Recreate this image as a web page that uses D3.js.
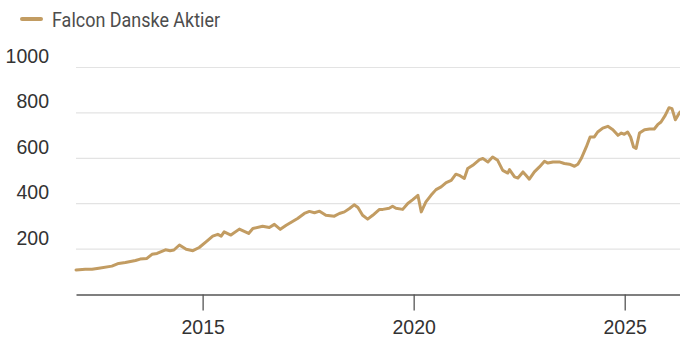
<!DOCTYPE html>
<html>
<head>
<meta charset="utf-8">
<script src="https://cdn.jsdelivr.net/npm/d3@7"></script>
<style>
  html, body { margin: 0; padding: 0; background: #fff; }
  svg { display: block; }
</style>
</head>
<body>
<svg id="chart" width="680" height="345"></svg>
<script>
// Fund series: time as decimal year, index value
const seriesName = "Falcon Danske Aktier";
const years = [
  2012.00, 2012.22, 2012.38, 2012.54, 2012.85, 2013.01, 2013.17, 2013.41, 2013.52, 2013.68,
  2013.80, 2013.92, 2014.12, 2014.23, 2014.32, 2014.45, 2014.61, 2014.77, 2014.92, 2015.08,
  2015.24, 2015.36, 2015.44, 2015.51, 2015.67, 2015.87, 2016.09, 2016.19, 2016.42, 2016.58,
  2016.70, 2016.84, 2016.98, 2017.14, 2017.25, 2017.41, 2017.53, 2017.65, 2017.77, 2017.92,
  2018.12, 2018.24, 2018.36, 2018.48, 2018.59, 2018.68, 2018.79, 2018.91, 2019.03, 2019.19,
  2019.27, 2019.42, 2019.50, 2019.58, 2019.74, 2019.86, 2019.98, 2020.10, 2020.18, 2020.29,
  2020.41, 2020.53, 2020.65, 2020.77, 2020.89, 2021.00, 2021.08, 2021.20, 2021.28, 2021.40,
  2021.56, 2021.64, 2021.76, 2021.87, 2021.99, 2022.11, 2022.23, 2022.27, 2022.39, 2022.47,
  2022.59, 2022.66, 2022.74, 2022.86, 2022.98, 2023.10, 2023.18, 2023.30, 2023.45, 2023.57,
  2023.69, 2023.81, 2023.89, 2023.97, 2024.09, 2024.18, 2024.28, 2024.36, 2024.48, 2024.60,
  2024.72, 2024.84, 2024.92, 2024.99, 2025.07, 2025.14, 2025.21, 2025.27, 2025.35, 2025.47,
  2025.59, 2025.70, 2025.78, 2025.86, 2025.96, 2026.05, 2026.12, 2026.20, 2026.26, 2026.31
];
const values = [
  108, 111, 111, 116, 125, 137, 141, 150, 156, 159,
  177, 181, 197, 193, 196, 218, 199, 193, 207, 232,
  257, 265, 257, 276, 262, 288, 269, 291, 301, 295,
  309, 287, 305, 323, 335, 357, 366, 360, 367, 349,
  345, 357, 364, 379, 395, 383, 349, 332, 349, 375,
  375, 380, 389, 380, 375, 401, 418, 437, 364, 408,
  437, 462, 474, 493, 503, 530, 525, 511, 555, 569,
  594, 599, 584, 606, 591, 547, 535, 550, 518, 513,
  540, 525, 508, 540, 562, 587, 579, 584, 584, 577,
  574, 565, 574, 599, 650, 694, 694, 716, 733, 741,
  726, 701, 711, 706, 716, 694, 650, 643, 711, 726,
  729, 729, 748, 760, 789, 823, 819, 770, 789, 804
];
const yTicks = [200, 400, 600, 800, 1000];
const xTicks = [2015, 2020, 2025];

const lineColor = "#c29c62";
const textColor = "#333333";

const svg = d3.select("#chart");
const plot = { left: 76, right: 680, top: 67.5, bottom: 294.5 };

const x = d3.scaleLinear().domain([2012, 2026.31]).range([plot.left, plot.right]);
const y = d3.scaleLinear().domain([0, 1000]).range([plot.bottom, plot.top]);

// Horizontal gridlines with labels sitting just above each line
const grid = svg.append("g");
grid.selectAll("line").data(yTicks).join("line")
  .attr("x1", plot.left).attr("x2", plot.right)
  .attr("y1", d => y(d)).attr("y2", d => y(d))
  .attr("stroke", "#e3e3e3").attr("stroke-width", 1.2);
grid.selectAll("text").data(yTicks).join("text")
  .attr("x", 49).attr("y", d => y(d) - 4.5)
  .attr("text-anchor", "end")
  .attr("font-family", "Liberation Sans, Arial, sans-serif")
  .attr("font-size", 19.5)
  .attr("fill", textColor)
  .text(d => d);

// Bottom axis
const xAxis = d3.axisBottom(x)
  .tickValues(xTicks)
  .tickFormat(d3.format("d"))
  .tickSize(16)
  .tickPadding(10)
  .tickSizeOuter(0);
const gx = svg.append("g").attr("transform", `translate(0,${plot.bottom})`).call(xAxis);
gx.select(".domain").attr("stroke", "#555").attr("stroke-width", 1.3);
gx.selectAll(".tick line").attr("stroke", "#555").attr("stroke-width", 1.3);
gx.selectAll(".tick text")
  .attr("font-family", "Liberation Sans, Arial, sans-serif")
  .attr("font-size", 19.5)
  .attr("fill", textColor);

// Series line
const data = years.map((t, i) => ({ t, v: values[i] }));
const line = d3.line().x(d => x(d.t)).y(d => y(d.v));
svg.append("path")
  .datum(data)
  .attr("d", line)
  .attr("fill", "none")
  .attr("stroke", lineColor)
  .attr("stroke-width", 3)
  .attr("stroke-linejoin", "round")
  .attr("stroke-linecap", "round");

// Legend
const legend = svg.append("g");
legend.append("line")
  .attr("x1", 22).attr("x2", 41).attr("y1", 19).attr("y2", 19)
  .attr("stroke", lineColor).attr("stroke-width", 4).attr("stroke-linecap", "round");
legend.append("text")
  .attr("x", 52).attr("y", 26.5)
  .attr("font-family", "Roboto, sans-serif")
  .attr("font-size", 21)
  .attr("textLength", 168)
  .attr("lengthAdjust", "spacingAndGlyphs")
  .attr("fill", "#4d4d4d")
  .text(seriesName);
</script>
</body>
</html>
